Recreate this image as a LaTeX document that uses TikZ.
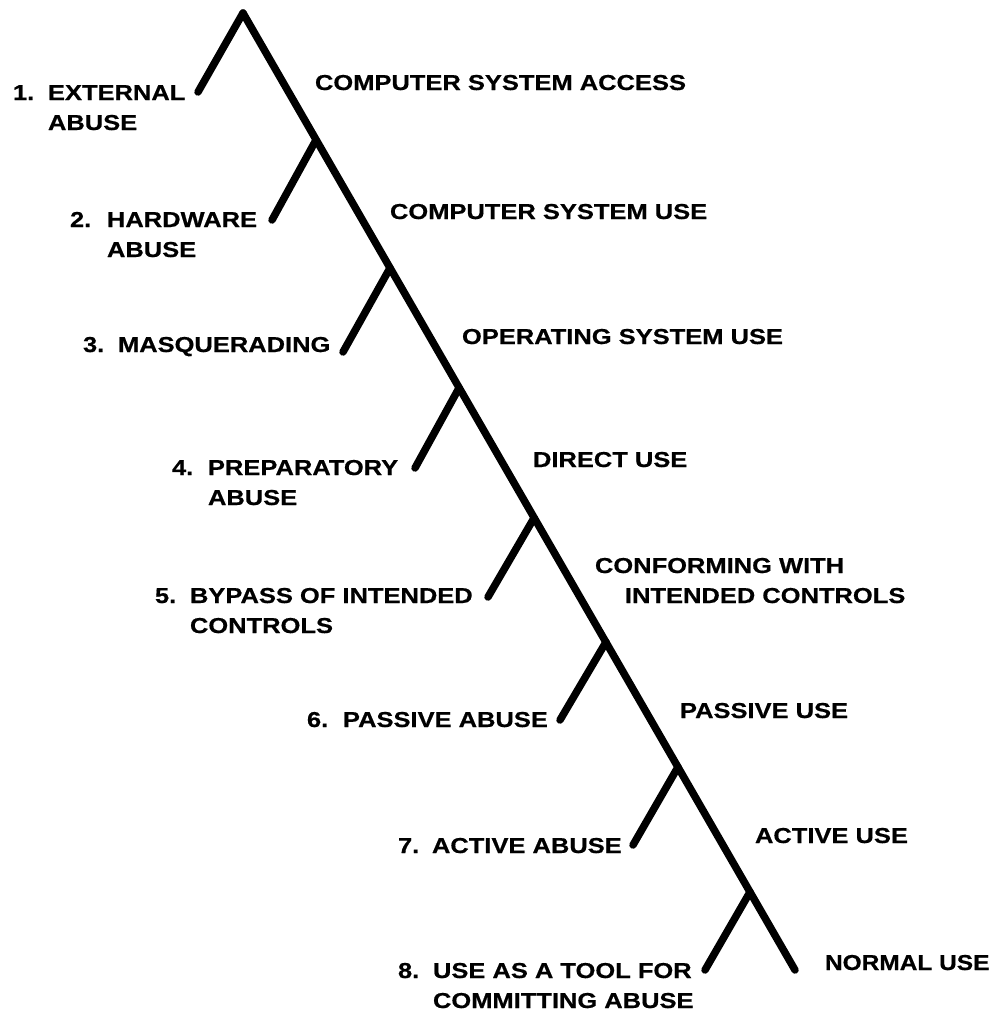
\documentclass[tikz,border=0pt]{standalone}
\usepackage{fontspec}
\setmainfont[FakeStretch=1.18,BoldFeatures={FakeBold=0.6}]{Liberation Sans}
\begin{document}
\begin{tikzpicture}[x=1pt,y=-1pt,
  stem/.style={line width=7.5pt,line cap=round,line join=round},
  lbl/.style={anchor=base west,inner sep=0pt,outer sep=0pt,font=\fontsize{21.6}{30}\selectfont\bfseries}]
\useasboundingbox (0,0) rectangle (993,1012);
% trunk and junctions
\coordinate (top) at (243,13);
\coordinate (bot) at (795,970);
\coordinate (j2) at (316,140);
\coordinate (j3) at (390,268);
\coordinate (j4) at (459,388);
\coordinate (j5) at (534,518);
\coordinate (j6) at (606,642);
\coordinate (j7) at (678,767);
\coordinate (j8) at (750,892);
% branch ends
\coordinate (e1) at (198,92);
\coordinate (e2) at (272,220);
\coordinate (e3) at (343,352);
\coordinate (e4) at (415,468);
\coordinate (e5) at (488,597);
\coordinate (e6) at (560,720);
\coordinate (e7) at (633,845);
\coordinate (e8) at (705,970);
\draw[stem] (top) -- (bot);
\draw[stem] (top) -- (e1);
\draw[stem] (j2) -- (e2);
\draw[stem] (j3) -- (e3);
\draw[stem] (j4) -- (e4);
\draw[stem] (j5) -- (e5);
\draw[stem] (j6) -- (e6);
\draw[stem] (j7) -- (e7);
\draw[stem] (j8) -- (e8);
% left labels
\node[lbl] (l1) at (13,100) {\begin{tabular}[t]{@{}p{35pt}@{}l@{}}1.&EXTERNAL\\&ABUSE\end{tabular}};
\node[lbl] (l2) at (70,227) {\begin{tabular}[t]{@{}p{37pt}@{}l@{}}2.&HARDWARE\\&ABUSE\end{tabular}};
\node[lbl] (l3) at (83,352) {\makebox[35pt][l]{3.}MASQUERADING};
\node[lbl] (l4) at (172,475) {\begin{tabular}[t]{@{}p{36pt}@{}l@{}}4.&PREPARATORY\\&ABUSE\end{tabular}};
\node[lbl] (l5) at (155,603) {\begin{tabular}[t]{@{}p{35pt}@{}l@{}}5.&BYPASS OF INTENDED\\&CONTROLS\end{tabular}};
\node[lbl] (l6) at (307,727) {\makebox[36pt][l]{6.}PASSIVE ABUSE};
\node[lbl] (l7) at (398,853) {\makebox[34pt][l]{7.}ACTIVE ABUSE};
\node[lbl] (l8) at (398,978) {\begin{tabular}[t]{@{}p{35pt}@{}l@{}}8.&USE AS A TOOL FOR\\&COMMITTING ABUSE\end{tabular}};
% right labels
\node[lbl] (r1) at (315,90) {COMPUTER SYSTEM ACCESS};
\node[lbl] (r2) at (390,219) {COMPUTER SYSTEM USE};
\node[lbl] (r3) at (462,344) {OPERATING SYSTEM USE};
\node[lbl] (r4) at (533,467) {DIRECT USE};
\node[lbl] (r5) at (595,573) {\begin{tabular}[t]{@{}l@{}}CONFORMING WITH\\\hspace*{30pt}INTENDED CONTROLS\end{tabular}};
\node[lbl] (r6) at (680,718) {PASSIVE USE};
\node[lbl] (r7) at (755,843) {ACTIVE USE};
\node[lbl] (r8) at (825,970) {\scalebox{0.96}[1]{NORMAL USE}};
\end{tikzpicture}
\end{document}
